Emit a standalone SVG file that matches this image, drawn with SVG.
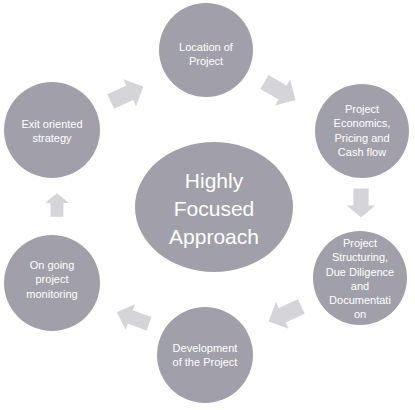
<svg xmlns="http://www.w3.org/2000/svg" width="415" height="410" viewBox="0 0 415 410">
<style>
.node{fill:#a19fa9}
.arr{fill:#d5d4d9}
.t{font-family:"Liberation Sans",Arial,sans-serif;font-size:11px;fill:#ffffff;text-anchor:middle}
.big{font-family:"Liberation Sans",Arial,sans-serif;font-size:21px;fill:#ffffff;text-anchor:middle}
</style>
<defs>
<path id="ba" d="M-18,-8 L3,-8 L3,-15 L18,0 L3,15 L3,8 L-18,8 Z"/>
</defs>
<rect width="415" height="410" fill="#ffffff"/>
<g id="connectors">
<use href="#ba" class="arr" transform="translate(127,94) rotate(-25)"/>
<use href="#ba" class="arr" transform="translate(280,91) rotate(30)"/>
<use href="#ba" class="arr" transform="translate(361,203) rotate(90) scale(0.8,0.95)"/>
<use href="#ba" class="arr" transform="translate(285,314) rotate(155)"/>
<use href="#ba" class="arr" transform="translate(133,318) rotate(200) scale(0.95,0.9)"/>
<use href="#ba" class="arr" transform="translate(57,205) rotate(-90) scale(0.65,0.8)"/>
</g>
<g id="center">
<ellipse class="node" cx="214" cy="207" rx="79" ry="65"/>
<text class="big" x="214" y="188">Highly</text>
<text class="big" x="214" y="216">Focused</text>
<text class="big" x="214" y="244">Approach</text>
</g>
<g id="location">
<circle class="node" cx="206" cy="50" r="47"/>
<text class="t" x="206" y="51">Location of</text>
<text class="t" x="206" y="65">Project</text>
</g>
<g id="economics">
<circle class="node" cx="362" cy="131" r="47"/>
<text class="t" x="362" y="113">Project</text>
<text class="t" x="362" y="127">Economics,</text>
<text class="t" x="362" y="142">Pricing and</text>
<text class="t" x="362" y="156">Cash flow</text>
</g>
<g id="structuring">
<circle class="node" cx="360" cy="278" r="47"/>
<text class="t" x="360" y="247">Project</text>
<text class="t" x="360" y="261">Structuring,</text>
<text class="t" x="360" y="276">Due Diligence</text>
<text class="t" x="360" y="290">and</text>
<text class="t" x="360" y="304">Documentati</text>
<text class="t" x="360" y="318">on</text>
</g>
<g id="development">
<circle class="node" cx="205" cy="355" r="48"/>
<text class="t" x="205" y="352">Development</text>
<text class="t" x="205" y="366">of the Project</text>
</g>
<g id="ongoing">
<circle class="node" cx="52" cy="283" r="48"/>
<text class="t" x="52" y="269">On going</text>
<text class="t" x="52" y="283">project</text>
<text class="t" x="52" y="298">monitoring</text>
</g>
<g id="exit">
<circle class="node" cx="52" cy="130" r="48"/>
<text class="t" x="52" y="128">Exit oriented</text>
<text class="t" x="52" y="142">strategy</text>
</g>
</svg>
